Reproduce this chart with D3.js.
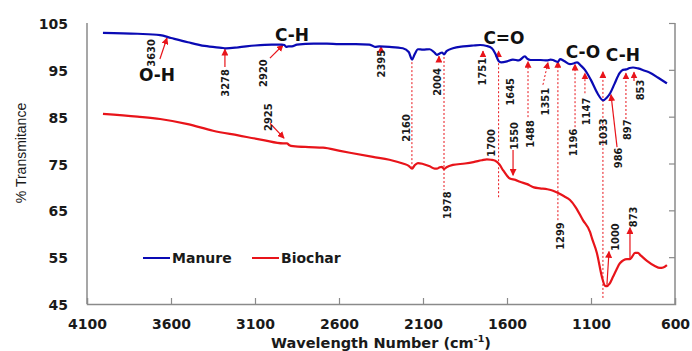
<!DOCTYPE html>
<html><head><meta charset="utf-8">
<script src="https://cdn.jsdelivr.net/npm/d3@7/dist/d3.min.js"></script>
<style>
body{margin:0;background:#fff;}
svg{display:block;}
</style></head>
<body><svg id="c" width="692" height="351"></svg>
<script>
// ---- data ----
const xTicks = [4100, 3600, 3100, 2600, 2100, 1600, 1100, 600];
const yTicks = [45, 55, 65, 75, 85, 95, 105];
const manureWave = [4005,3800,3665,3600,3500,3400,3300,3273,3200,3100,3000,2940,2925,2915,2900,2880,2850,2750,2672,2600,2500,2420,2398,2385,2360,2300,2220,2185,2165,2150,2130,2100,2060,2030,2017,2000,1987,1975,1960,1922,1860,1800,1760,1720,1690,1670,1650,1635,1600,1565,1530,1493,1480,1460,1400,1362,1340,1326,1314,1297,1284,1260,1225,1200,1183,1160,1136,1100,1060,1028,1005,986,960,930,910,890,870,850,820,780,749,700,648];
const manureT    = [102.9,102.7,102.4,101.8,100.9,100.1,99.7,99.6,99.8,100.2,100.4,100.4,100.3,99.9,100.0,100.0,100.4,100.6,100.6,100.5,100.5,100.4,100.1,99.9,100.0,99.9,99.6,98.8,97.2,98.3,99.4,99.3,99.4,98.6,98.2,98.5,98.7,98.3,99.0,99.6,100.0,100.2,100.3,100.1,99.6,98.5,96.9,96.6,96.8,97.2,97.0,97.9,97.4,97.1,97.1,97.0,97.2,97.1,96.9,96.7,97.3,96.9,96.2,96.4,96.6,95.9,95.0,92.8,89.9,88.5,89.1,90.0,92.0,94.3,95.0,95.1,95.4,95.5,95.3,94.8,94.4,93.3,92.1];
const biocharWave = [4005,3800,3665,3500,3350,3200,3050,2933,2910,2895,2874,2780,2695,2594,2535,2398,2300,2220,2185,2165,2150,2130,2100,2060,2030,2017,2000,1987,1975,1960,1922,1850,1800,1750,1720,1695,1670,1645,1624,1600,1583,1550,1523,1480,1440,1404,1360,1326,1290,1260,1225,1190,1148,1106,1094,1065,1035,1017,1005,990,969,950,928,886,868,857,838,820,808,767,720,690,670,648];
const biocharT    = [85.6,85.0,84.5,83.4,82.0,81.0,80.0,79.3,79.3,78.9,78.7,78.5,78.4,77.7,77.3,76.4,75.8,75.0,74.5,73.9,74.6,75.1,74.9,74.4,73.9,73.9,74.2,74.3,73.8,74.2,74.7,75.0,75.3,75.7,75.9,75.8,75.6,74.8,73.6,72.4,71.8,71.5,71.1,70.6,69.9,69.7,69.5,69.2,68.6,68.0,67.2,65.6,62.9,60.4,59.0,55.9,50.8,48.9,48.8,49.3,50.8,52.2,53.7,54.6,54.6,55.0,55.9,55.9,55.5,54.2,53.1,52.7,52.8,53.3];
const seriesNames = ["Manure", "Biochar"];
const seriesColors = ["#0a0ab4", "#e8141a"];
// annotation numbers: text, arrow from (w1,t1) to (w2,t2), head?, dotted?, label at (lw,lt)
const annText = ["3630","3278","2920","2925","2395","2160","2004","1978","1751","1645","1700","1550","1488","1351","1299","1196","1147","1033","986","897","853","1000","873"];
const annW1   = [3666,3279,3011,3011,2350,2166,2005,1975,1743,1650,null,1564,1475,1386,1297,1195,1136,1029,945,892,844,1005,868];
const annT1   = [97.3,95.6,97.5,83.6,98.8,97.5,96.9,98.6,98.2,67.8,null,77.9,84.9,91.8,62.9,81.9,90.0,46.3,78.5,84.5,92.6,49.1,54.4];
const annW2   = [3624,3279,2933,2927,2350,2166,2005,1975,1743,1650,null,1564,1475,1356,1297,1195,1136,1029,981,892,844,993,868];
const annT2   = [101.8,99.4,100.3,80.4,100.0,74.0,97.9,69.3,99.0,99.0,null,72.5,96.8,96.6,96.8,96.2,94.3,94.6,89.7,94.3,94.5,56.2,61.3];
const annHead = [1,1,1,1,1,0,1,0,1,1,0,1,1,1,1,1,1,1,1,1,1,1,1];
const annDot  = [0,0,0,0,0,1,0,1,0,1,0,0,1,1,1,1,1,1,0,1,0,0,0];
const annLW   = [3719,3279,3052,3023,2350,2201,2017,1957,1749,1582,1695,1558,1463,1374,1285,1207,1130,1029,939,886,808,957,850];
const annLT   = [98.6,92.2,94.3,84.9,96.3,82.6,92.4,66.1,94.6,90.3,79.4,80.9,81.3,88.2,59.5,79.5,86.1,81.7,76.2,82.2,90.7,59.3,63.6];
// group labels
const grpText = ["O-H","C-H","C=O","C-O","C-H"];
const grpW    = [3683,2880,1618,1148,910];
const grpT    = [93.9,102.4,101.8,98.8,98.2];

// ---- chart ----
const svg = d3.select("#c");
const x = d3.scaleLinear().domain([4100, 600]).range([87, 675]);
const y = d3.scaleLinear().domain([45, 105]).range([304, 23]);
const axisCol = "#8a8a8a";

// axes lines
svg.append("line").attr("x1",x(4100)).attr("x2",x(4100)).attr("y1",y(105)).attr("y2",y(45)).attr("stroke",axisCol).attr("stroke-width",1.5);
svg.append("line").attr("x1",x(600)).attr("x2",x(600)).attr("y1",y(105)).attr("y2",y(45)).attr("stroke",axisCol).attr("stroke-width",1.5);

const xAxis = d3.axisBottom(x).tickValues(xTicks).tickSize(-6).tickPadding(0).tickFormat(d3.format("d"));
const gx = svg.append("g").attr("transform",`translate(0,${y(45)})`).call(xAxis);
gx.select(".domain").attr("stroke",axisCol).attr("stroke-width",1.5);
gx.selectAll(".tick line").attr("stroke",axisCol).attr("stroke-width",1.2)
  .filter(d => d===4100 || d===600).remove();
gx.selectAll(".tick text").attr("y",15).attr("font-family","DejaVu Sans").attr("font-weight","bold").attr("font-size",14).attr("fill","#1a1a1a");

const yAxis = d3.axisLeft(y).tickValues(yTicks).tickSize(0).tickPadding(19).tickFormat(d3.format("d"));
const gy = svg.append("g").attr("transform",`translate(${x(4100)},0)`).call(yAxis);
gy.select(".domain").remove();
gy.selectAll(".tick text").attr("font-family","DejaVu Sans").attr("font-weight","bold").attr("font-size",14).attr("fill","#1a1a1a").attr("dy","0.4em");

const yAxisR = d3.axisLeft(y).tickValues(yTicks.filter(v=>v>45)).tickSize(6).tickFormat("");
const gyr = svg.append("g").attr("transform",`translate(${x(600)},0)`).call(yAxisR);
gyr.select(".domain").remove();
gyr.selectAll(".tick line").attr("stroke",axisCol).attr("stroke-width",1.2);

// axis titles
const xt = svg.append("text").attr("x",381).attr("y",348).attr("text-anchor","middle")
  .attr("font-family","DejaVu Sans").attr("font-weight","bold").attr("font-size",14.5).attr("fill","#1a1a1a");
xt.append("tspan").text("Wavelength Number (cm");
xt.append("tspan").text("-1").attr("font-size",9.5).attr("dy",-6);
xt.append("tspan").text(")").attr("dy",6);
svg.append("text").attr("transform","translate(26,153) rotate(-90)").attr("text-anchor","middle")
  .attr("font-family","Liberation Sans").attr("font-size",14).attr("fill","#1a1a1a").text("% Transmitance");

// annotations
const red = "#e8141a";
const defs = svg.append("defs");
defs.append("marker").attr("id","ah").attr("viewBox","0 0 10 10").attr("refX",9).attr("refY",5)
  .attr("markerWidth",7).attr("markerHeight",7).attr("markerUnits","userSpaceOnUse").attr("orient","auto")
  .append("path").attr("d","M0,0L10,5L0,10Z").attr("fill",red);

const ann = annText.map((t,i)=>({t, w1:annW1[i], t1:annT1[i], w2:annW2[i], t2:annT2[i], head:annHead[i], dot:annDot[i], lw:annLW[i], lt:annLT[i]}));
const ga = svg.append("g");
ann.filter(a=>a.w1!==null).forEach(a=>{
  const l = ga.append("line").attr("x1",x(a.w1)).attr("y1",y(a.t1)).attr("x2",x(a.w2)).attr("y2",y(a.t2))
    .attr("stroke",red).attr("stroke-width",a.dot?1:1.2);
  if(a.dot) l.attr("stroke-dasharray","2,2");
  if(a.head) {
    if(a.dot){
      const dx = x(a.w2)-x(a.w1), dy = y(a.t2)-y(a.t1), len = Math.hypot(dx,dy);
      ga.append("line").attr("x1",x(a.w2)-dx/len*6).attr("y1",y(a.t2)-dy/len*6).attr("x2",x(a.w2)).attr("y2",y(a.t2))
        .attr("stroke","none").attr("marker-end","url(#ah)");
    } else l.attr("marker-end","url(#ah)");
  }
});

// curves
const line = d3.line().x(d=>x(d[0])).y(d=>y(d[1])).curve(d3.curveMonotoneX);
const series = [d3.zip(manureWave, manureT), d3.zip(biocharWave, biocharT)];
series.forEach((s,i)=>{
  svg.append("path").datum(s).attr("d",line).attr("fill","none").attr("stroke",seriesColors[i]).attr("stroke-width",2.2).attr("stroke-linejoin","round");
});

// labels
ann.forEach(a=>{
  svg.append("text").attr("transform",`translate(${x(a.lw)+4},${y(a.lt)}) rotate(-90)`).attr("text-anchor","middle")
    .attr("font-family","Liberation Sans Narrow, DejaVu Sans Condensed, sans-serif").attr("font-weight","bold")
    .attr("font-size",11).attr("fill","#1a1a1a").text(a.t);
});
grpText.forEach((t,i)=>{
  svg.append("text").attr("x",x(grpW[i])).attr("y",y(grpT[i])+6).attr("text-anchor","middle")
    .attr("font-family","DejaVu Sans").attr("font-weight","bold").attr("font-size",17).attr("fill","#111").text(t);
});

// legend
const lgX = [143, 252];
seriesNames.forEach((n,i)=>{
  svg.append("line").attr("x1",lgX[i]).attr("x2",lgX[i]+27).attr("y1",258).attr("y2",258).attr("stroke",seriesColors[i]).attr("stroke-width",2);
  svg.append("text").attr("x",lgX[i]+29).attr("y",263).attr("font-family","DejaVu Sans").attr("font-weight","bold").attr("font-size",14).attr("fill","#1a1a1a").text(n);
});
</script></body></html>
